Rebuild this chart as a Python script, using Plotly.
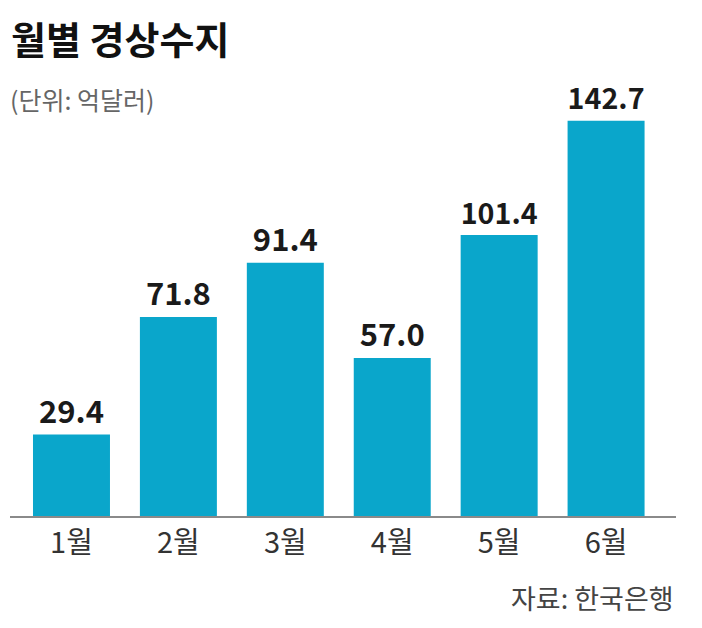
import plotly.graph_objects as go

months = ["1월", "2월", "3월", "4월", "5월", "6월"]
balance = [29.4, 71.8, 91.4, 57.0, 101.4, 142.7]

bar_color = "#0aa6cb"
kfont = "Noto Sans CJK KR"

fig = go.Figure(
    go.Bar(
        x=months,
        y=balance,
        marker=dict(color=bar_color, line=dict(width=0)),
        text=[f"{v:.1f}" for v in balance],
        textposition="outside",
        textfont=dict(family=kfont, size=31, color="#1a1a1a", weight="bold"),
        cliponaxis=False,
    )
)

# the page puts the figure 8px in from the top-left, margins allow for that
fig.update_layout(
    width=702,
    height=628,
    margin=dict(l=2, r=34, t=72, b=120),
    paper_bgcolor="white",
    plot_bgcolor="white",
    bargap=0.28,
    showlegend=False,
    font=dict(family=kfont),
)

fig.update_xaxes(
    range=[-0.575, 5.654],
    showline=True,
    linecolor="#8a8a8a",
    linewidth=1.5,
    ticks="",
    tickfont=dict(family=kfont, size=29, color="#333333"),
    showgrid=False,
)
fig.update_yaxes(range=[0, 157.4], visible=False, showgrid=False)

# title, unit and source
fig.add_annotation(
    text="<b>월별 경상수지</b>", xref="paper", yref="paper",
    x=0, y=1, xshift=-1, yshift=43, xanchor="left", yanchor="middle",
    showarrow=False, font=dict(family=kfont, size=38, color="#111111"),
)
fig.add_annotation(
    text="(단위: 억달러)", xref="paper", yref="paper",
    x=0, y=1, xshift=-2, yshift=-19, xanchor="left", yanchor="middle",
    showarrow=False, font=dict(family=kfont, size=25, color="#666666"),
)
fig.add_annotation(
    text="자료: 한국은행", xref="paper", yref="paper",
    x=1, y=0, xshift=0, yshift=-81, xanchor="right", yanchor="middle",
    showarrow=False, font=dict(family=kfont, size=27, color="#444444"),
)

fig.write_html("out.html")
